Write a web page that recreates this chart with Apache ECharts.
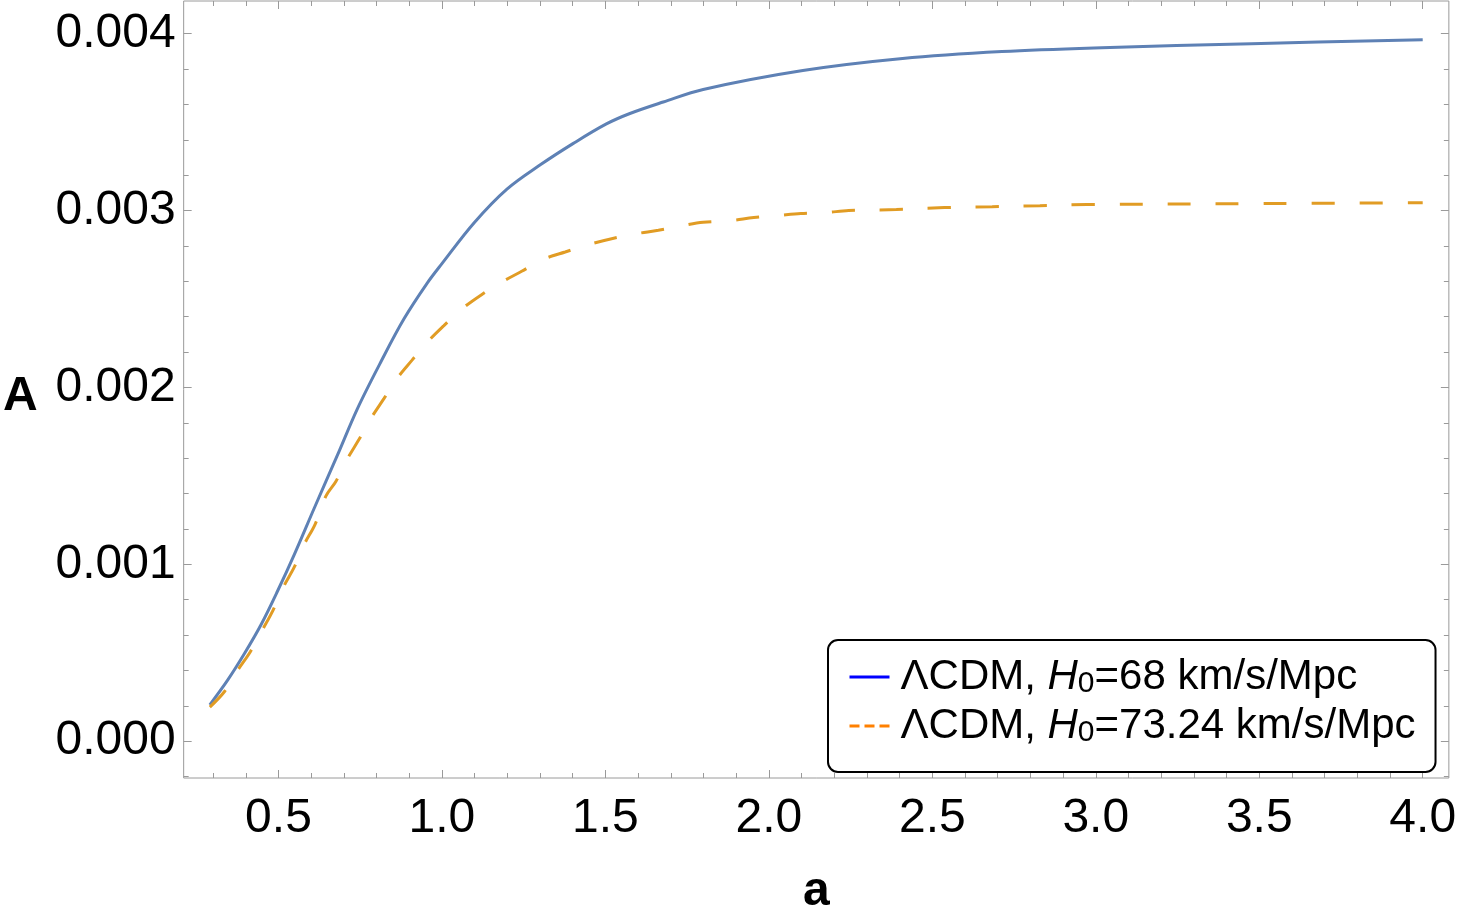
<!DOCTYPE html>
<html>
<head>
<meta charset="utf-8">
<script src="https://cdn.jsdelivr.net/npm/echarts@6/dist/echarts.min.js"></script>
<style>
  html, body { margin: 0; padding: 0; background: #fff; }
  #chart { width: 1459px; height: 921px; }
</style>
</head>
<body>
<div id="chart"></div>
<script>
// curve values
const blueA = [0.29, 0.345, 0.396, 0.447, 0.498, 0.549, 0.61, 0.681, 0.742, 0.813, 0.884, 0.955, 1.0, 1.098, 1.198, 1.302, 1.402, 1.503, 1.575, 1.677, 1.799, 2.104, 2.409, 2.713, 3.018, 3.476, 4.0];
const blueVal = [0.000206, 0.000347, 0.000496, 0.00066, 0.000852, 0.001058, 0.00132, 0.00162, 0.001882, 0.002144, 0.002388, 0.00259, 0.0027, 0.00293, 0.00312, 0.00326, 0.00338, 0.00349, 0.003549, 0.003614, 0.003685, 0.003792, 0.00386, 0.003899, 0.003921, 0.003944, 0.003966];

const orangeA = [0.29, 0.335, 0.376, 0.414, 0.452, 0.484, 0.516, 0.549, 0.579, 0.612, 0.645, 0.676, 0.711, 0.747, 0.783, 0.823, 0.864, 0.908, 0.957, 1.006, 1.061, 1.119, 1.183, 1.244, 1.311, 1.377, 1.451, 1.519, 1.594, 1.662, 1.738, 1.799, 1.884, 1.954, 2.027, 2.098, 2.174, 2.244, 2.39, 2.537, 2.683, 2.829, 2.973, 3.476, 4.0];
const orangeVal = [0.000193, 0.000281, 0.000403, 0.000506, 0.000633, 0.000743, 0.000875, 0.000987, 0.001114, 0.001226, 0.001386, 0.00147, 0.001597, 0.001708, 0.001826, 0.001938, 0.002054, 0.002153, 0.00226, 0.00235, 0.002444, 0.002522, 0.002596, 0.002657, 0.002725, 0.002766, 0.002809, 0.002841, 0.002869, 0.002889, 0.002916, 0.002934, 0.002944, 0.002961, 0.002972, 0.002983, 0.002989, 0.003, 0.003006, 0.003017, 0.003022, 0.003028, 0.003034, 0.003039, 0.003045];

const xMajor = [0.5, 1.0, 1.5, 2.0, 2.5, 3.0, 3.5, 4.0];
const xMinor = [0.3, 0.4, 0.6, 0.7, 0.8, 0.9, 1.1, 1.2, 1.3, 1.4, 1.6, 1.7, 1.8, 1.9, 2.1, 2.2, 2.3, 2.4, 2.6, 2.7, 2.8, 2.9, 3.1, 3.2, 3.3, 3.4, 3.6, 3.7, 3.8, 3.9];
const yMajor = [0, 0.001, 0.002, 0.003, 0.004];
const yMinor = [-0.0002, 0.0002, 0.0004, 0.0006, 0.0008, 0.0012, 0.0014, 0.0016, 0.0018, 0.0022, 0.0024, 0.0026, 0.0028, 0.0032, 0.0034, 0.0036, 0.0038];

const seriesNames = ['ΛCDM, H0=68 km/s/Mpc', 'ΛCDM, H0=73.24 km/s/Mpc'];

const xMin = 0.21, xMax = 4.08;
const yMin = -0.000208, yMax = 0.004185;

const frameColor = '#9a9a9a';
const font = 'Liberation Sans, Arial, sans-serif';

function zip(a, b) {
    return a.map((v, i) => [v, b[i]]);
}

function xAxisOf(pos, ticks, len, withLabels) {
    return {
        type: 'value', min: xMin, max: xMax, position: pos,
        axisLine: { show: false, onZero: false },
        splitLine: { show: false },
        axisTick: { inside: true, length: len, customValues: ticks, lineStyle: { color: frameColor, width: 1 } },
        axisLabel: withLabels ? {
            customValues: xMajor, margin: 17, color: '#000', fontSize: 48, fontFamily: font,
            formatter: v => v.toFixed(1)
        } : { show: false },
        name: withLabels ? 'a' : '',
        nameLocation: 'middle', nameGap: 90,
        nameTextStyle: { fontSize: 48, fontWeight: 'bold', color: '#000', fontFamily: font }
    };
}

function yAxisOf(pos, ticks, len, withLabels) {
    return {
        type: 'value', min: yMin, max: yMax, position: pos,
        axisLine: { show: false, onZero: false },
        splitLine: { show: false },
        axisTick: { inside: true, length: len, customValues: ticks, lineStyle: { color: frameColor, width: 1 } },
        axisLabel: withLabels ? {
            customValues: yMajor, margin: 8, color: '#000', fontSize: 48, fontFamily: font,
            formatter: v => v.toFixed(3)
        } : { show: false },
        name: withLabels ? '{v|A}' : '',
        nameLocation: 'middle', nameGap: 146, nameRotate: 0,
        nameTextStyle: {
            rich: { v: { fontSize: 48, fontWeight: 'bold', color: '#000', fontFamily: font, padding: [14, 0, 0, 0] } }
        }
    };
}

function legendText(name) {
    const parts = name.split('H0');
    return '{n|' + parts[0] + '}{i|H}{s|0}{n|' + parts[1] + '}';
}

const option = {
    animation: false,
    backgroundColor: '#fff',
    grid: {
        left: 180, right: 10, top: 1, bottom: 139,
        show: true, borderColor: frameColor, borderWidth: 1, backgroundColor: 'transparent'
    },
    xAxis: [
        xAxisOf('bottom', xMajor, 8, true),
        xAxisOf('bottom', xMinor, 5, false),
        xAxisOf('top', xMajor, 8, false),
        xAxisOf('top', xMinor, 5, false)
    ],
    yAxis: [
        yAxisOf('left', yMajor, 8, true),
        yAxisOf('left', yMinor, 5, false),
        yAxisOf('right', yMajor, 8, false),
        yAxisOf('right', yMinor, 5, false)
    ],
    legend: {
        orient: 'vertical',
        left: 828, top: 640,
        padding: [16, 20, 24, 20],
        itemGap: 6,
        itemWidth: 40, itemHeight: 14,
        backgroundColor: '#fff',
        borderColor: '#000', borderWidth: 2, borderRadius: 10,
        formatter: legendText,
        textStyle: {
            padding: [0, 0, 0, 6],
            rich: {
                n: { fontSize: 42, lineHeight: 44, fontFamily: font, color: '#000' },
                i: { fontSize: 42, lineHeight: 44, fontFamily: font, fontStyle: 'italic', color: '#000' },
                s: { fontSize: 30, lineHeight: 20, fontFamily: font, color: '#000', verticalAlign: 'bottom' }
            }
        },
        data: [
            { name: seriesNames[0], itemStyle: { color: '#0000ff', opacity: 0 }, lineStyle: { color: '#0000ff', width: 3, type: 'solid' } },
            { name: seriesNames[1], itemStyle: { color: '#ff8000', opacity: 0 }, lineStyle: { color: '#ff8000', width: 3, type: [10, 5] } }
        ]
    },
    series: [
        {
            name: seriesNames[0], type: 'line', smooth: 0.35, symbol: 'none',
            xAxisIndex: 0, yAxisIndex: 0,
            lineStyle: { color: '#5e81b5', width: 3 },
            itemStyle: { color: '#5e81b5' },
            data: zip(blueA, blueVal)
        },
        {
            name: seriesNames[1], type: 'line', smooth: 0.35, symbol: 'none',
            xAxisIndex: 0, yAxisIndex: 0,
            lineStyle: { color: '#e19c24', width: 3, type: [23, 25] },
            itemStyle: { color: '#e19c24' },
            data: zip(orangeA, orangeVal)
        }
    ]
};

let myChart = echarts.init(document.getElementById('chart'));
myChart.setOption(option);
</script>
</body>
</html>
